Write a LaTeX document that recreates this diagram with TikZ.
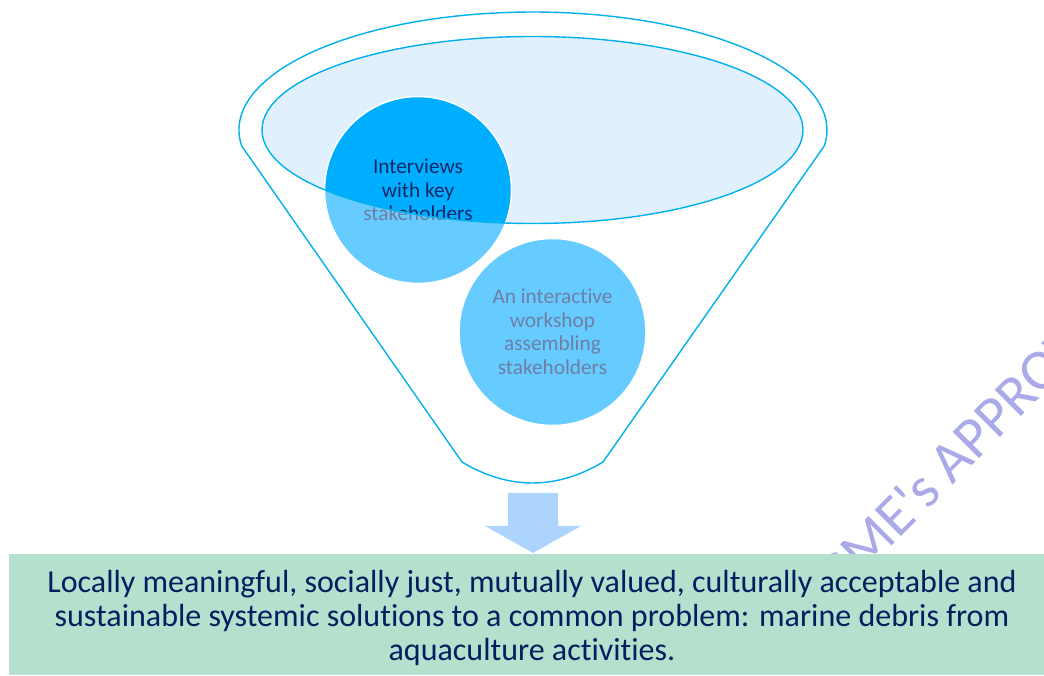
\documentclass[tikz,border=0pt]{standalone}
\usepackage{fontspec}
\setmainfont{Carlito}[Ligatures={NoCommon,NoContextual}]
\newfontfamily\wmfont{Carlito}[Ligatures=ResetAll]
\newcommand{\tI}{t\kern0pt i}
\definecolor{lineblue}{RGB}{0,176,240}
\definecolor{ellfill}{RGB}{225,240,253}
\definecolor{bubblelight}{RGB}{102,204,255}
\definecolor{bubbledark}{RGB}{0,174,255}
\definecolor{greytext}{RGB}{110,126,166}
\definecolor{navy}{RGB}{0,32,96}
\definecolor{innernavy}{RGB}{16,40,104}
\definecolor{arrowblue}{RGB}{173,212,255}
\definecolor{boxgreen}{RGB}{181,224,205}
\definecolor{wmcolor}{RGB}{170,170,232}
\begin{document}
\begin{tikzpicture}[x=1pt,y=1pt,
  funline/.style={draw=lineblue,line width=1.4pt},
  bubble/.style={circle,minimum size=187pt,inner sep=0pt,draw=white,line width=1.5pt,
    align=center,font=\fontsize{21.3}{23.5}\selectfont},
  restext/.style={anchor=base,text=navy,font=\fontsize{32}{34}\selectfont,inner sep=0pt},
  watermark/.style={text=wmcolor,font=\wmfont\fontsize{58}{60}\selectfont,inner sep=0pt}]
\useasboundingbox (0,0) rectangle (1044,675);
% watermark
\begin{scope}
  \clip (0,121) rectangle (1044,675);
  \node[watermark,anchor=base west,rotate=45] (wm) at (801,38) {EASME's APPROVAL};
\end{scope}
% funnel outline
\draw[funline] (241.7,529) arc[start angle=187.79,end angle=-7.79,x radius=294,y radius=118]
  coordinate (fr) -- (603,213) coordinate (br)
  .. controls (556.3,185) and (508.7,185) .. (462,213) coordinate (bl) -- cycle;
% bubbles
\node[bubble,fill=bubblelight,text=greytext] (c1) at (418,485) {Interviews\\with key\\stakeholders};
\node[bubble,fill=bubblelight,text=greytext] (c2) at (552.5,343) {An interac\tI ve\\workshop\\assembling\\stakeholders};
% inner ellipse
\path[fill=ellfill] (532.5,545) ellipse[x radius=270.5,y radius=93.5];
\begin{scope}
  \clip (532.5,545) ellipse[x radius=270.5,y radius=93.5];
  \node[bubble,fill=bubbledark,text=innernavy] (c1in) at (418,485) {Interviews\\with key\\stakeholders};
\end{scope}
\draw[funline] (532.5,545) ellipse[x radius=270.5,y radius=93.5];
% block arrow
\fill[arrowblue] (508,182) -- (558,182) -- (558,149) -- (581,149) -- (533,122)
  -- (485,149) -- (508,149) -- cycle;
% result box
\node[fill=boxgreen,minimum width=1035pt,minimum height=121pt,inner sep=0pt,anchor=south west] (box) at (9,0) {};
\node[restext] (t1) at (532,83) {Locally meaningful, socially just, mutually valued, culturally acceptable and};
\node[restext] (t2) at (532,49) {sustainable systemic solu\tI ons to a common problem: marine debris from};
\node[restext] (t3) at (532,15) {aquaculture ac\tI vi\tI es.};
\end{tikzpicture}
\end{document}
